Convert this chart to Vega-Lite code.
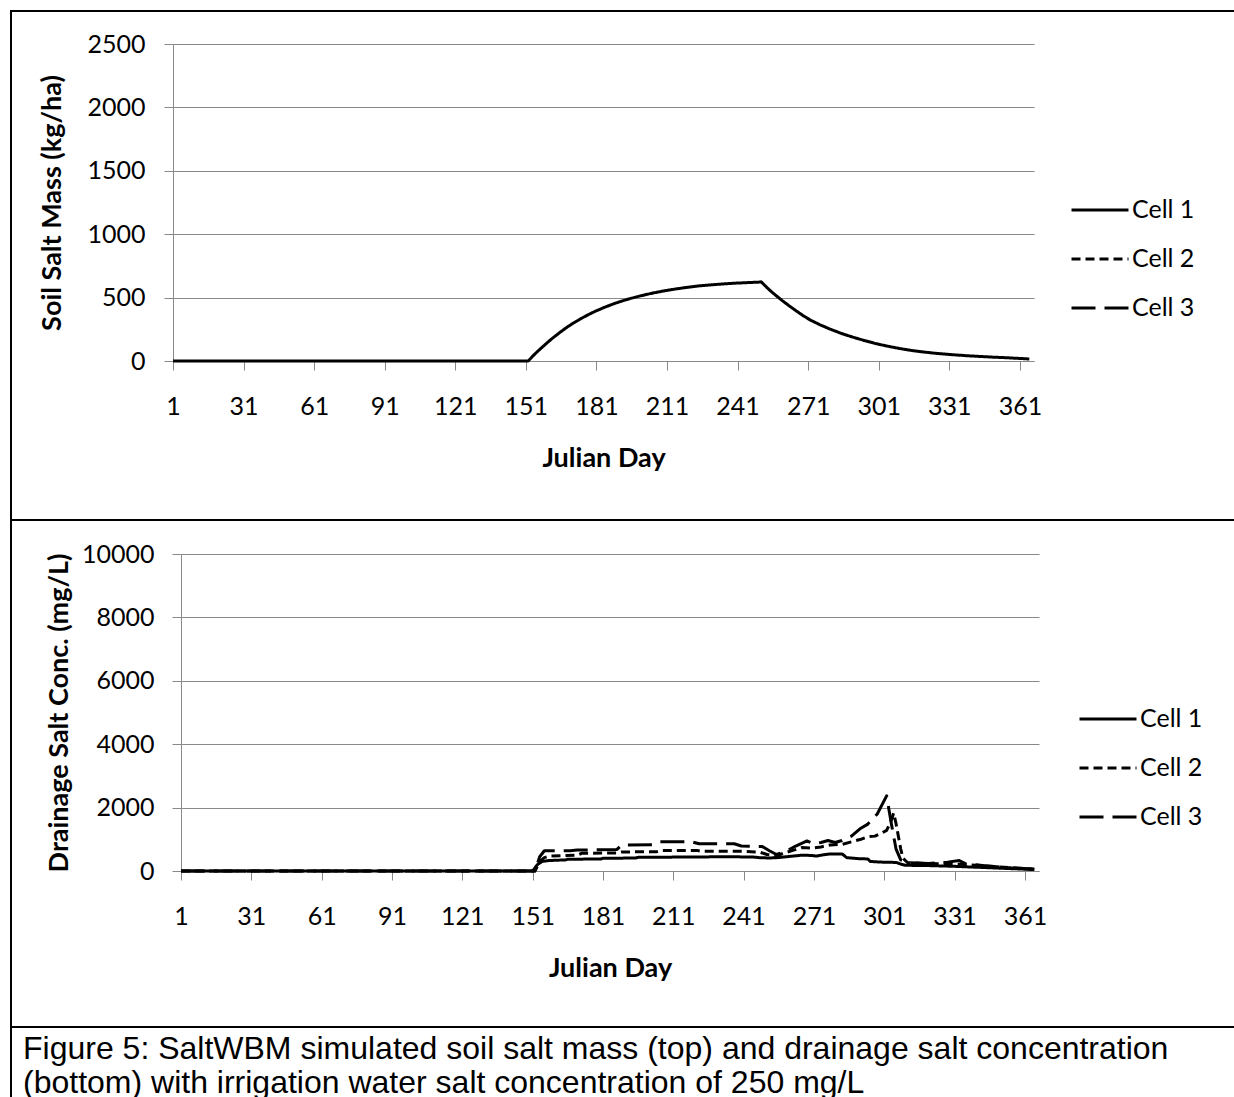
{
  "$schema": "https://vega.github.io/schema/vega-lite/v6.json",
  "background": "white",
  "padding": {"left": 10, "top": 10, "right": 0, "bottom": 0},
  "bounds": "flush",
  "spacing": 0,
  "datasets": {
    "top": [
      {"day": 1, "cell": "Cell 1", "v": 0}, {"day": 152, "cell": "Cell 1", "v": 0},
      {"day": 154, "cell": "Cell 1", "v": 40}, {"day": 156, "cell": "Cell 1", "v": 76},
      {"day": 158, "cell": "Cell 1", "v": 110}, {"day": 160, "cell": "Cell 1", "v": 143},
      {"day": 162, "cell": "Cell 1", "v": 175}, {"day": 165, "cell": "Cell 1", "v": 219},
      {"day": 168, "cell": "Cell 1", "v": 260}, {"day": 171, "cell": "Cell 1", "v": 297},
      {"day": 174, "cell": "Cell 1", "v": 330}, {"day": 177, "cell": "Cell 1", "v": 360},
      {"day": 180, "cell": "Cell 1", "v": 388}, {"day": 184, "cell": "Cell 1", "v": 420},
      {"day": 188, "cell": "Cell 1", "v": 449}, {"day": 192, "cell": "Cell 1", "v": 474},
      {"day": 196, "cell": "Cell 1", "v": 496}, {"day": 200, "cell": "Cell 1", "v": 515},
      {"day": 205, "cell": "Cell 1", "v": 536}, {"day": 210, "cell": "Cell 1", "v": 554},
      {"day": 215, "cell": "Cell 1", "v": 569}, {"day": 220, "cell": "Cell 1", "v": 582},
      {"day": 225, "cell": "Cell 1", "v": 593}, {"day": 230, "cell": "Cell 1", "v": 601},
      {"day": 235, "cell": "Cell 1", "v": 608}, {"day": 240, "cell": "Cell 1", "v": 614},
      {"day": 245, "cell": "Cell 1", "v": 618}, {"day": 250, "cell": "Cell 1", "v": 622},
      {"day": 251, "cell": "Cell 1", "v": 625}, {"day": 253, "cell": "Cell 1", "v": 588},
      {"day": 255, "cell": "Cell 1", "v": 553}, {"day": 257, "cell": "Cell 1", "v": 521},
      {"day": 260, "cell": "Cell 1", "v": 476}, {"day": 263, "cell": "Cell 1", "v": 434},
      {"day": 266, "cell": "Cell 1", "v": 394}, {"day": 269, "cell": "Cell 1", "v": 356},
      {"day": 272, "cell": "Cell 1", "v": 322}, {"day": 276, "cell": "Cell 1", "v": 286},
      {"day": 280, "cell": "Cell 1", "v": 254}, {"day": 285, "cell": "Cell 1", "v": 218},
      {"day": 290, "cell": "Cell 1", "v": 188}, {"day": 295, "cell": "Cell 1", "v": 161},
      {"day": 300, "cell": "Cell 1", "v": 136}, {"day": 305, "cell": "Cell 1", "v": 116},
      {"day": 310, "cell": "Cell 1", "v": 98}, {"day": 315, "cell": "Cell 1", "v": 83},
      {"day": 320, "cell": "Cell 1", "v": 71}, {"day": 325, "cell": "Cell 1", "v": 61},
      {"day": 330, "cell": "Cell 1", "v": 53}, {"day": 335, "cell": "Cell 1", "v": 46},
      {"day": 340, "cell": "Cell 1", "v": 40}, {"day": 345, "cell": "Cell 1", "v": 35},
      {"day": 350, "cell": "Cell 1", "v": 30}, {"day": 355, "cell": "Cell 1", "v": 26},
      {"day": 360, "cell": "Cell 1", "v": 21}, {"day": 365, "cell": "Cell 1", "v": 16}
    ],
    "bottom": [
      {"day": 1, "cell": "Cell 1", "v": 0}, {"day": 151, "cell": "Cell 1", "v": 0},
      {"day": 153, "cell": "Cell 1", "v": 200}, {"day": 155, "cell": "Cell 1", "v": 300},
      {"day": 158, "cell": "Cell 1", "v": 330}, {"day": 165, "cell": "Cell 1", "v": 350},
      {"day": 166, "cell": "Cell 1", "v": 370}, {"day": 180, "cell": "Cell 1", "v": 380},
      {"day": 181, "cell": "Cell 1", "v": 400}, {"day": 195, "cell": "Cell 1", "v": 410},
      {"day": 196, "cell": "Cell 1", "v": 430}, {"day": 215, "cell": "Cell 1", "v": 440},
      {"day": 235, "cell": "Cell 1", "v": 450}, {"day": 240, "cell": "Cell 1", "v": 445},
      {"day": 245, "cell": "Cell 1", "v": 440}, {"day": 248, "cell": "Cell 1", "v": 420},
      {"day": 252, "cell": "Cell 1", "v": 410}, {"day": 255, "cell": "Cell 1", "v": 420},
      {"day": 258, "cell": "Cell 1", "v": 440}, {"day": 262, "cell": "Cell 1", "v": 470},
      {"day": 266, "cell": "Cell 1", "v": 500}, {"day": 270, "cell": "Cell 1", "v": 490},
      {"day": 272, "cell": "Cell 1", "v": 470}, {"day": 275, "cell": "Cell 1", "v": 510},
      {"day": 278, "cell": "Cell 1", "v": 540}, {"day": 283, "cell": "Cell 1", "v": 540},
      {"day": 285, "cell": "Cell 1", "v": 420}, {"day": 290, "cell": "Cell 1", "v": 390},
      {"day": 294, "cell": "Cell 1", "v": 380}, {"day": 295, "cell": "Cell 1", "v": 300},
      {"day": 300, "cell": "Cell 1", "v": 280}, {"day": 306, "cell": "Cell 1", "v": 270},
      {"day": 308, "cell": "Cell 1", "v": 220}, {"day": 310, "cell": "Cell 1", "v": 180},
      {"day": 320, "cell": "Cell 1", "v": 170}, {"day": 330, "cell": "Cell 1", "v": 150},
      {"day": 340, "cell": "Cell 1", "v": 120}, {"day": 350, "cell": "Cell 1", "v": 90},
      {"day": 360, "cell": "Cell 1", "v": 60}, {"day": 365, "cell": "Cell 1", "v": 45},

      {"day": 1, "cell": "Cell 2", "v": 0}, {"day": 152, "cell": "Cell 2", "v": 0},
      {"day": 154, "cell": "Cell 2", "v": 300}, {"day": 156, "cell": "Cell 2", "v": 420},
      {"day": 158, "cell": "Cell 2", "v": 470}, {"day": 170, "cell": "Cell 2", "v": 500},
      {"day": 172, "cell": "Cell 2", "v": 560}, {"day": 187, "cell": "Cell 2", "v": 570},
      {"day": 189, "cell": "Cell 2", "v": 600}, {"day": 204, "cell": "Cell 2", "v": 610},
      {"day": 206, "cell": "Cell 2", "v": 650}, {"day": 221, "cell": "Cell 2", "v": 650},
      {"day": 223, "cell": "Cell 2", "v": 620}, {"day": 242, "cell": "Cell 2", "v": 620},
      {"day": 248, "cell": "Cell 2", "v": 590}, {"day": 251, "cell": "Cell 2", "v": 520},
      {"day": 255, "cell": "Cell 2", "v": 480}, {"day": 258, "cell": "Cell 2", "v": 560},
      {"day": 262, "cell": "Cell 2", "v": 650}, {"day": 266, "cell": "Cell 2", "v": 740},
      {"day": 270, "cell": "Cell 2", "v": 720}, {"day": 274, "cell": "Cell 2", "v": 760},
      {"day": 278, "cell": "Cell 2", "v": 820}, {"day": 283, "cell": "Cell 2", "v": 840},
      {"day": 287, "cell": "Cell 2", "v": 920}, {"day": 291, "cell": "Cell 2", "v": 1000},
      {"day": 294, "cell": "Cell 2", "v": 1080}, {"day": 297, "cell": "Cell 2", "v": 1100},
      {"day": 300, "cell": "Cell 2", "v": 1200}, {"day": 302, "cell": "Cell 2", "v": 1280},
      {"day": 304, "cell": "Cell 2", "v": 1600}, {"day": 305, "cell": "Cell 2", "v": 1830},
      {"day": 306, "cell": "Cell 2", "v": 1500}, {"day": 307, "cell": "Cell 2", "v": 1100},
      {"day": 308, "cell": "Cell 2", "v": 700}, {"day": 309, "cell": "Cell 2", "v": 400},
      {"day": 311, "cell": "Cell 2", "v": 260}, {"day": 318, "cell": "Cell 2", "v": 240},
      {"day": 326, "cell": "Cell 2", "v": 230}, {"day": 334, "cell": "Cell 2", "v": 210},
      {"day": 342, "cell": "Cell 2", "v": 170}, {"day": 350, "cell": "Cell 2", "v": 130},
      {"day": 358, "cell": "Cell 2", "v": 90}, {"day": 365, "cell": "Cell 2", "v": 60},

      {"day": 1, "cell": "Cell 3", "v": 0}, {"day": 152, "cell": "Cell 3", "v": 0},
      {"day": 154, "cell": "Cell 3", "v": 450}, {"day": 156, "cell": "Cell 3", "v": 640},
      {"day": 167, "cell": "Cell 3", "v": 640}, {"day": 170, "cell": "Cell 3", "v": 660},
      {"day": 187, "cell": "Cell 3", "v": 680}, {"day": 189, "cell": "Cell 3", "v": 820},
      {"day": 202, "cell": "Cell 3", "v": 830}, {"day": 205, "cell": "Cell 3", "v": 920},
      {"day": 219, "cell": "Cell 3", "v": 920}, {"day": 222, "cell": "Cell 3", "v": 860},
      {"day": 237, "cell": "Cell 3", "v": 860}, {"day": 240, "cell": "Cell 3", "v": 790},
      {"day": 249, "cell": "Cell 3", "v": 770}, {"day": 252, "cell": "Cell 3", "v": 640},
      {"day": 255, "cell": "Cell 3", "v": 520}, {"day": 259, "cell": "Cell 3", "v": 620},
      {"day": 263, "cell": "Cell 3", "v": 780}, {"day": 266, "cell": "Cell 3", "v": 880},
      {"day": 268, "cell": "Cell 3", "v": 950}, {"day": 271, "cell": "Cell 3", "v": 860},
      {"day": 274, "cell": "Cell 3", "v": 900}, {"day": 277, "cell": "Cell 3", "v": 960},
      {"day": 280, "cell": "Cell 3", "v": 900}, {"day": 283, "cell": "Cell 3", "v": 960},
      {"day": 287, "cell": "Cell 3", "v": 1100}, {"day": 291, "cell": "Cell 3", "v": 1350},
      {"day": 294, "cell": "Cell 3", "v": 1480}, {"day": 298, "cell": "Cell 3", "v": 1800},
      {"day": 302, "cell": "Cell 3", "v": 2370}, {"day": 304, "cell": "Cell 3", "v": 1500},
      {"day": 306, "cell": "Cell 3", "v": 700}, {"day": 308, "cell": "Cell 3", "v": 350},
      {"day": 311, "cell": "Cell 3", "v": 260}, {"day": 320, "cell": "Cell 3", "v": 240},
      {"day": 328, "cell": "Cell 3", "v": 280}, {"day": 333, "cell": "Cell 3", "v": 330},
      {"day": 336, "cell": "Cell 3", "v": 220}, {"day": 345, "cell": "Cell 3", "v": 160},
      {"day": 355, "cell": "Cell 3", "v": 100}, {"day": 365, "cell": "Cell 3", "v": 60}
    ],
    "caption": [
      {"pos": 0, "line": 1, "text": "Figure 5: SaltWBM simulated soil salt mass (top) and drainage salt concentration"},
      {"pos": 0, "line": 2, "text": "(bottom) with irrigation water salt concentration of 250 mg/L"}
    ]
  },
  "vconcat": [
    {
      "width": 1224,
      "height": 509,
      "data": {"name": "top"},
      "mark": {"type": "line", "strokeWidth": 3, "color": "black", "strokeJoin": "round"},
      "encoding": {
        "x": {"field": "day", "type": "quantitative",
          "scale": {"domain": [1, 367], "range": [162, 1023], "nice": false, "zero": false},
          "axis": {"title": "Julian Day", "values": [1, 31, 61, 91, 121, 151, 181, 211, 241, 271, 301, 331, 361], "format": "d", "offset": -159, "grid": false, "labelPadding": 24, "titlePadding": 26}},
        "y": {"field": "v", "type": "quantitative",
          "scale": {"domain": [0, 2500], "range": [350, 33], "nice": false},
          "axis": {"title": "Soil Salt Mass (kg/ha)", "values": [0, 500, 1000, 1500, 2000, 2500], "format": "d", "offset": -162, "grid": true, "labelPadding": 19, "titlePadding": 20}},
        "strokeDash": {"field": "cell", "type": "nominal",
          "scale": {"domain": ["Cell 1", "Cell 2", "Cell 3"], "range": [[1, 0], [9, 5], [24, 9]]},
          "legend": {"orient": "none", "legendX": 1059, "legendY": 186, "title": null, "symbolType": "stroke", "symbolSize": 3249, "symbolStrokeWidth": 3, "symbolStrokeColor": "black", "labelFont": "Lato", "labelFontSize": 25, "labelColor": "black", "labelOffset": 2, "rowPadding": 23, "clipHeight": 26, "padding": 0}}
      }
    },
    {
      "width": 1224,
      "height": 507,
      "data": {"name": "bottom"},
      "mark": {"type": "line", "strokeWidth": 3, "color": "black", "strokeJoin": "round"},
      "encoding": {
        "x": {"field": "day", "type": "quantitative",
          "scale": {"domain": [1, 367], "range": [170, 1028], "nice": false, "zero": false},
          "axis": {"title": "Julian Day", "values": [1, 31, 61, 91, 121, 151, 181, 211, 241, 271, 301, 331, 361], "format": "d", "offset": -156, "grid": false, "labelPadding": 24, "titlePadding": 26}},
        "y": {"field": "v", "type": "quantitative",
          "scale": {"domain": [0, 10000], "range": [351, 34], "nice": false},
          "axis": {"title": "Drainage Salt Conc. (mg/L)", "values": [0, 2000, 4000, 6000, 8000, 10000], "format": "d", "offset": -170, "grid": true, "labelPadding": 18, "titlePadding": 8}},
        "strokeDash": {"field": "cell", "type": "nominal",
          "scale": {"domain": ["Cell 1", "Cell 2", "Cell 3"], "range": [[1, 0], [9, 5], [24, 9]]},
          "legend": {"orient": "none", "legendX": 1067, "legendY": 186, "title": null, "symbolType": "stroke", "symbolSize": 3249, "symbolStrokeWidth": 3, "symbolStrokeColor": "black", "labelFont": "Lato", "labelFontSize": 25, "labelColor": "black", "labelOffset": 2, "rowPadding": 23, "clipHeight": 26, "padding": 0}}
      }
    },
    {
      "width": 1224,
      "height": 71,
      "data": {"name": "caption"},
      "mark": {"type": "text", "align": "left", "baseline": "middle", "font": "Liberation Sans", "fontSize": 32, "dx": 12, "color": "black"},
      "encoding": {
        "x": {"field": "pos", "type": "quantitative", "scale": {"domain": [0, 1]}, "axis": null},
        "y": {"field": "line", "type": "ordinal", "scale": {"type": "point", "range": [22, 56], "padding": 0}, "axis": null},
        "text": {"field": "text"}
      }
    }
  ],
  "resolve": {
    "scale": {"x": "independent", "y": "independent", "strokeDash": "independent"},
    "legend": {"strokeDash": "independent"}
  },
  "config": {
    "view": {"stroke": "black", "strokeWidth": 2},
    "font": "Lato",
    "axis": {
      "labelFont": "Lato", "labelFontSize": 25, "labelColor": "black",
      "titleFont": "Lato", "titleFontSize": 27, "titleFontWeight": "bold", "titleColor": "black",
      "domainColor": "#898989", "domainWidth": 1,
      "tickColor": "#898989", "tickSize": 9, "tickWidth": 1,
      "gridColor": "#898989", "gridWidth": 1,
      "labelFlush": false, "labelOverlap": false, "labelBound": false
    }
  }
}
